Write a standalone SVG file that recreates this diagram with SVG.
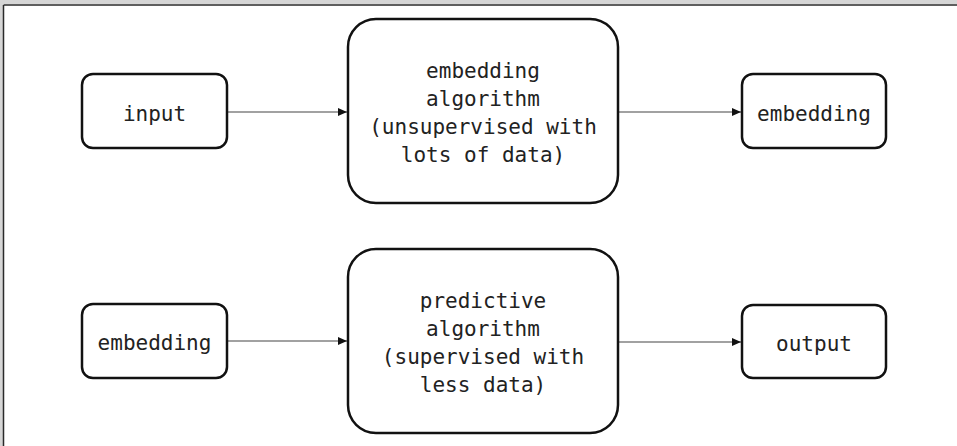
<svg xmlns="http://www.w3.org/2000/svg" width="957" height="446" viewBox="0 0 957 446">
<style>
.box{fill:#fff;stroke:#111;stroke-width:2.5}
.lbl{font-family:"DejaVu Sans Mono","Liberation Mono",monospace;font-size:21px;fill:#222;text-anchor:middle}
.conn{stroke:#444;stroke-width:1.2;fill:none}
</style>
<defs>
<marker id="arr" markerWidth="10" markerHeight="8" refX="9" refY="4" orient="auto" markerUnits="userSpaceOnUse">
<path d="M0,0 L9,4 L0,8 Z" fill="#111"/>
</marker>
</defs>
<rect x="0" y="0" width="957" height="446" fill="#fff"/>
<rect x="0" y="0" width="957" height="4" fill="#d6d6d6"/>
<rect x="0" y="0" width="3" height="446" fill="#d6d6d6"/>
<line x1="3.5" y1="5" x2="957" y2="5" stroke="#2a2a2a" stroke-width="1.5"/>
<line x1="3.5" y1="5" x2="3.5" y2="446" stroke="#2a2a2a" stroke-width="1.5"/>
<g id="connectors">
<line class="conn" x1="227" y1="112" x2="347" y2="112" marker-end="url(#arr)"/>
<line class="conn" x1="618" y1="112" x2="741" y2="112" marker-end="url(#arr)"/>
<line class="conn" x1="227" y1="341" x2="347" y2="341" marker-end="url(#arr)"/>
<line class="conn" x1="618" y1="342" x2="741" y2="342" marker-end="url(#arr)"/>
</g>
<g id="input">
<rect class="box" x="82" y="74" width="145" height="74" rx="11"/>
<text class="lbl" x="154.5" y="121">input</text>
</g>
<g id="embedding-algorithm">
<rect class="box" x="348" y="19" width="270" height="184" rx="28"/>
<text class="lbl" x="483" y="78">embedding</text>
<text class="lbl" x="483" y="106">algorithm</text>
<text class="lbl" x="483" y="134">(unsupervised with</text>
<text class="lbl" x="483" y="162">lots of data)</text>
</g>
<g id="embedding-out">
<rect class="box" x="742" y="74" width="144" height="74" rx="11"/>
<text class="lbl" x="814" y="121">embedding</text>
</g>
<g id="embedding-in">
<rect class="box" x="82" y="304" width="145" height="74" rx="11"/>
<text class="lbl" x="154.5" y="350">embedding</text>
</g>
<g id="predictive-algorithm">
<rect class="box" x="348" y="249" width="270" height="184" rx="28"/>
<text class="lbl" x="483" y="308">predictive</text>
<text class="lbl" x="483" y="336">algorithm</text>
<text class="lbl" x="483" y="364">(supervised with</text>
<text class="lbl" x="483" y="392">less data)</text>
</g>
<g id="output">
<rect class="box" x="742" y="305" width="144" height="73" rx="11"/>
<text class="lbl" x="814" y="351">output</text>
</g>
</svg>
